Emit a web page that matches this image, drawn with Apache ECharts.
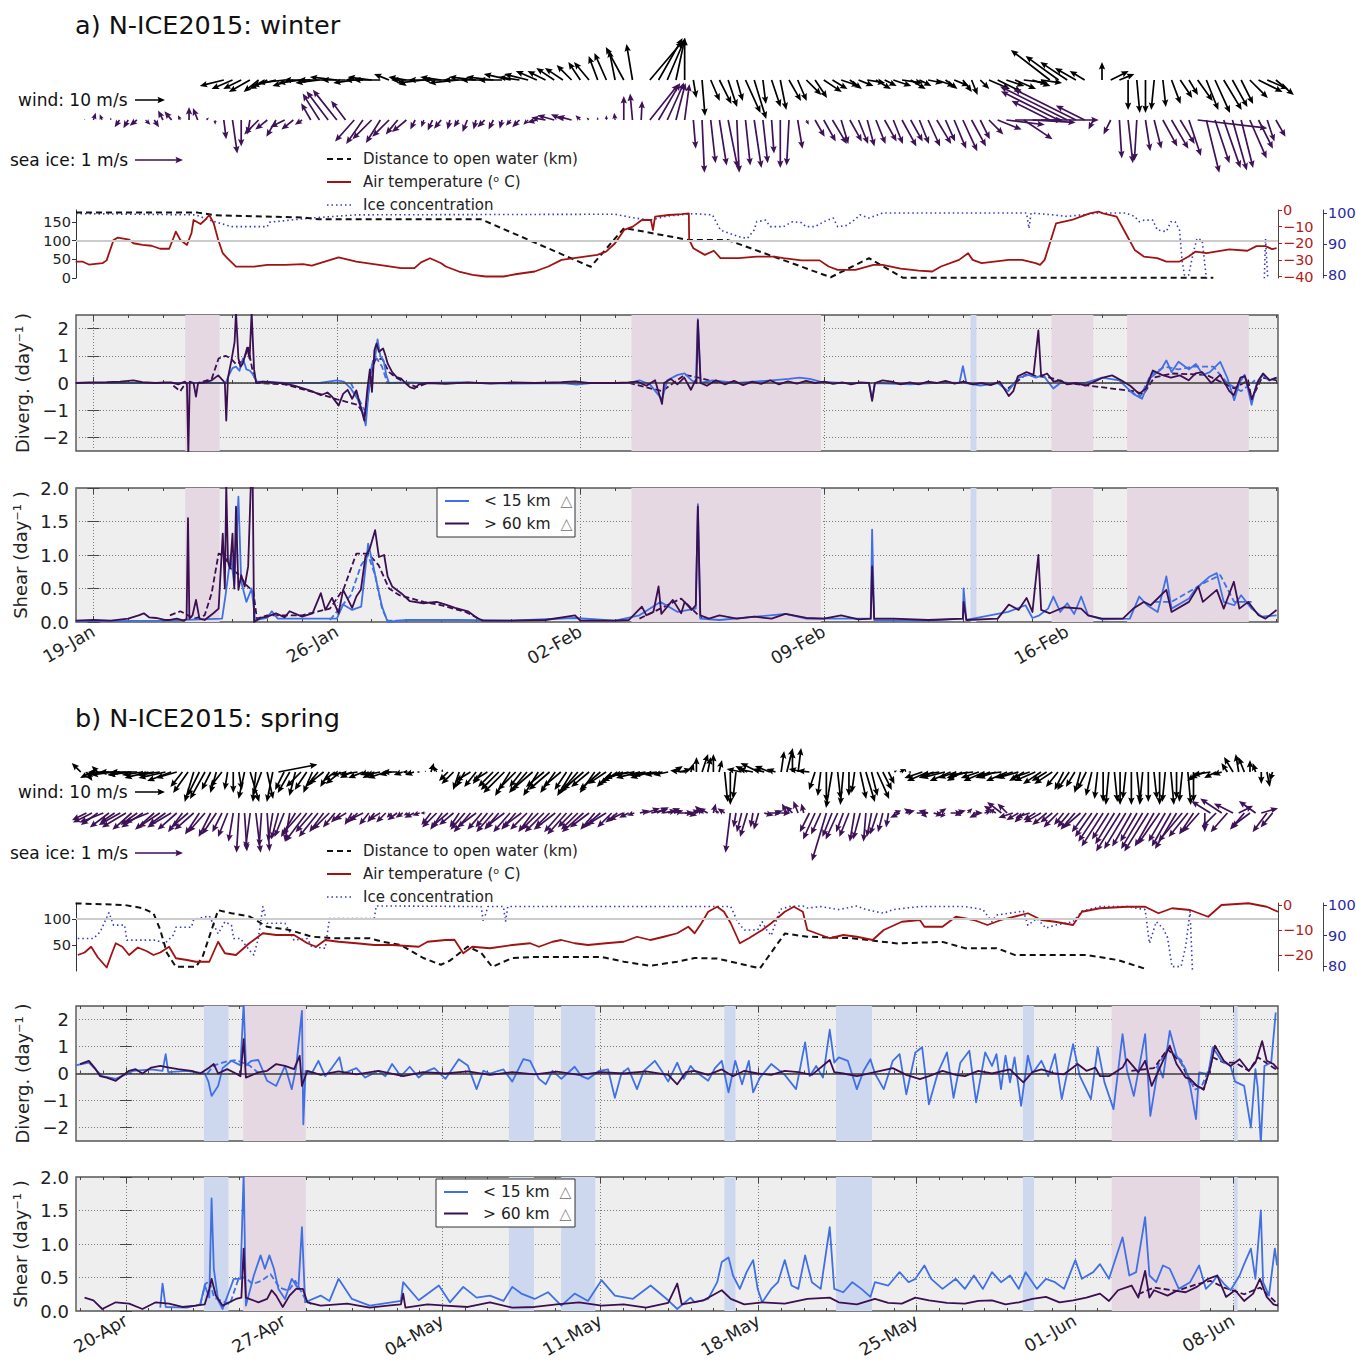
<!DOCTYPE html>
<html><head><meta charset="utf-8">
<script src="https://cdn.jsdelivr.net/npm/echarts@6/dist/echarts.min.js"></script>
<style>html,body{margin:0;padding:0;background:#fff}#c{width:1356px;height:1363px}</style>
</head><body><div id="c"></div><script>
// ================= DATA =================
// x values are days: panel a from 19-Jan-2015 00:00, panel b from 20-Apr-2015 00:00
const weekTicksA = [0,7,14,21,28];
const weekLabelsA = ['19-Jan','26-Jan','02-Feb','09-Feb','16-Feb'];
const weekTicksB = [0,7,14,21,28,35,42,49];
const weekLabelsB = ['20-Apr','27-Apr','04-May','11-May','18-May','25-May','01-Jun','08-Jun'];
const rangeA = [-0.5, 34.06];
const rangeB = [-2.21, 50.99];

// vector sampling (6-hourly) start day and step
const arrowStartA = -0.5, arrowStartB = -2.0, arrowStep = 0.25;

// ---- panel a : winter ----
const windA_u = [null,null,null,null,null,null,null,null,null,null,null,null,null,null,null,null,null,
 -8,-7,-6,-7,-5,-6,
 -8,-9,-7,-8,-9,-8,-10,-9,-8,-7,-6,-8,-9,-5,3,-6,-8,-9,-8,-7,-9,-10,-8,-9,-8,
 -9,-8,-9,-7,-8,-7,-6,-6,
 -6,-5,-4,-5,-3,-4,-2,-6,
 -2,null,
 11,8,6,3,0,
 1,
 1,3,4,3,2,5,4,1,3,2,4,3,5,4,6,
 5,6,4,5,6,5,4,6,7,5,4,5,6,4,5,3,2,3,
 7,8,6,7,8,6,7,
 -13,-11,-9,-7,-5,
 null,0,6,5,
 0,1,0,-1,1,3,4,3,5,4,5,6,5,4,6,8,7,6];
const windA_v = [null,null,null,null,null,null,null,null,null,null,null,null,null,null,null,null,null,
 -2,-3,-3,-4,-4,-3,
 -2,-1,-2,-1,0,-1,0,1,0,-1,0,1,0,2,-2,1,0,-1,0,1,0,-1,0,1,0,
 1,0,2,1,2,3,3,4,
 4,5,6,6,8,9,10,11,
 12,null,
 13,14,14,14,14,
 -6,
 -12,-7,-8,-9,-7,-11,-13,-8,-9,-10,-7,-7,-5,-6,-4,
 -3,-2,-3,-2,-1,-3,-2,-2,-1,-3,-2,-1,-2,-3,-2,-4,-5,-3,
 -3,-4,-2,-3,-1,-2,-1,
 10,8,6,4,3,
 null,6,3,2,
 -10,-11,-11,-10,-9,-8,-6,-5,-7,-10,-11,-10,-9,-8,-6,-4,-3,-5];
const iceA_u = [null,
 0,0.05,-0.05,0,-0.1,-0.1,-0.15,0.1,0.1,-0.1,-0.15,-0.05,0,-0.1,0.05,0,
 0.05,0.1,0,-0.05,
 -0.3,-0.25,-0.2,-0.3,-0.25,-0.15,
 -0.2,-0.35,-0.45,-0.5,-0.3,
 -0.4,-0.35,-0.4,-0.3,-0.35,-0.25,-0.3,
 -0.1,-0.05,-0.1,-0.15,-0.05,-0.1,-0.1,-0.05,-0.15,-0.1,-0.05,-0.1,-0.15,-0.1,-0.2,
 -0.3,-0.35,-0.25,-0.3,-0.1,-0.05,
 0,0,-0.02,
 0,-0.05,0.02,
 0.6,0.45,0.35,0.2,0.1,
 0.05,0.05,0.1,0.15,0.2,0.05,0.1,0.15,0.1,0.05,0,-0.05,0.1,
 0.05,
 0.2,0.25,0.3,0.15,0.25,0.2,0.15,0.2,0.25,0.2,0.3,0.25,0.2,0.25,0.3,0.2,0.25,0.3,0.3,0.2,
 0.3,0.5,0.8,1.0,0.6,0.9,1.2,
 -0.8,-1.2,-1.4,-1.3,-0.6,
 -0.1,0,-0.15,
 0.05,0.1,-0.05,0.1,0.15,0.3,0.35,0.3,0.25,1.45,0.27,0.3,0.35,0.3,0.25,0.35,0.3,0.15,0.2];
const iceA_v = [null,
 0.02,0.15,0.12,0.05,-0.15,-0.17,-0.12,-0.1,-0.15,0.2,0.18,0.1,0.27,0.25,0.05,-0.1,
 -0.4,-0.7,-0.55,-0.3,
 -0.3,-0.2,-0.35,-0.15,-0.2,-0.1,
 0.35,0.55,0.6,0.63,0.4,
 -0.45,-0.5,-0.4,-0.48,-0.35,-0.3,-0.25,
 -0.2,-0.15,-0.22,-0.18,-0.2,-0.15,-0.25,-0.2,-0.15,-0.2,-0.18,-0.12,-0.15,-0.1,-0.05,
 0.05,0.1,0.12,0.08,0.1,0.05,
 0.06,0.1,0.15,
 0.5,0.55,0.4,
 0.75,0.77,0.78,0.77,0.75,
 -0.6,-1.1,-0.9,-0.95,-1.0,-1.1,-0.95,-1.0,-0.9,-0.7,-1.0,-0.95,-0.6,
 -0.1,
 -0.35,-0.45,-0.5,-0.5,-0.45,-0.5,-0.55,-0.5,-0.45,-0.5,-0.55,-0.45,-0.5,-0.55,-0.5,-0.45,-0.6,-0.65,-0.55,-0.4,
 -0.3,-0.2,-0.1,0,-0.4,-0.05,0,
 0.4,0.6,0.7,0.65,0.3,
 -0.2,0,-0.3,
 -0.8,-0.9,-0.85,-0.65,-0.6,-0.55,-0.6,-0.5,-0.75,-0.17,-1.1,-0.9,-1.0,-1.05,-1.0,-0.8,-0.6,-0.45,-0.35];

const distA = [[-0.5,175],[3.0,175],[3.5,168],[6.0,162],[6.5,157],[11.15,157],[14.3,30],[15.26,134],[17.1,102],[18.23,102],[21.2,2],[22.3,53],[23.27,1],[32.2,1]];
const tempA = [[-0.51,-31.1],[-0.32,-31],[-0.13,-32.8],[0.26,-32],[0.38,-30.3],[0.58,-18],[0.7,-16.6],[1.03,-17.8],[1.15,-20],[1.41,-21],[1.67,-21.5],[1.92,-23.3],[2.18,-23.3],[2.31,-16.4],[2.37,-13],[2.5,-18],[2.69,-21],[2.82,-14],[2.88,-6],[3.08,-8.4],[3.21,-6],[3.33,-3],[3.46,-8],[3.59,-18],[3.72,-26],[3.85,-29],[4.1,-34],[4.62,-34],[5.0,-33],[5.51,-33],[6.03,-32.5],[6.28,-33.5],[7.05,-28.5],[7.56,-31],[8.21,-33],[8.85,-35],[9.23,-35],[9.42,-31.5],[9.68,-29],[10.0,-32],[10.13,-34],[10.51,-37],[10.9,-39],[11.28,-40],[11.79,-40],[12.18,-38.5],[12.69,-37],[13.08,-34],[13.46,-30],[13.97,-28.5],[14.49,-27],[14.74,-25],[15.0,-20],[15.26,-12],[15.51,-10],[15.77,-6],[16.03,-6],[16.09,-12],[16.15,-4],[16.54,-3],[16.92,-2.5],[17.12,-2],[17.13,-18],[17.25,-23],[17.58,-27],[17.84,-24.5],[18.03,-29],[18.55,-29],[19.07,-28],[19.58,-28],[19.84,-29],[20.36,-30.3],[20.88,-30.3],[21.14,-34],[21.4,-36],[21.91,-36],[22.43,-33],[22.69,-33],[23.21,-35.3],[23.73,-36.5],[24.12,-37],[24.37,-34],[24.89,-30],[25.15,-26],[25.28,-30],[25.54,-32],[26.32,-30],[26.7,-30],[27.09,-32],[27.22,-33],[27.35,-30],[27.68,-8],[28.13,-6],[28.39,-4],[28.65,-2],[28.9,-1],[29.03,-2],[29.42,-4],[29.68,-14],[29.94,-24],[30.2,-28],[30.59,-29],[30.85,-31],[31.23,-31],[31.49,-28],[31.69,-25],[32.01,-26],[32.66,-23.7],[33.18,-24.5],[33.44,-21.7],[33.7,-21.7],[33.89,-23.5],[34.02,-23]];
const iceConcA = [[-0.5,99.8],[2.95,99.4],[3.33,97.7],[3.97,95.6],[5.0,95.6],[5.06,97],[5.64,97.7],[6.28,98.4],[7.56,99.4],[15.0,99.6],[15.5,98.5],[16.0,97.7],[16.5,99],[17.25,99.8],[17.8,99.4],[17.9,97.2],[18.03,94.5],[18.3,93.4],[18.55,92.4],[18.8,91.8],[19.0,94.5],[19.07,97.2],[19.33,97.7],[19.46,95.6],[19.84,95.6],[20.1,97.2],[20.36,96.9],[20.49,95.6],[20.75,95.6],[21.0,97.2],[21.27,98.4],[21.4,95.6],[21.66,96],[21.91,98],[22.04,99.4],[22.3,98.4],[22.56,99.4],[22.69,100],[26.83,100],[26.9,95],[26.96,100],[27.6,99.4],[28.0,98.9],[28.9,100],[29.68,100],[29.94,98.9],[30.07,97.2],[30.2,97.7],[30.46,97.7],[30.59,94.5],[30.85,94],[30.98,97.2],[31.1,97.2],[31.23,94.5],[31.3,84.8],[31.37,80],[31.49,80],[31.62,87],[31.73,91.8],[31.88,91.2],[31.99,80],[32.05,76],[32.1,null],[33.66,76],[33.7,91.8],[33.78,76]];

const divA_far = [[-0.51,0],[-0.13,0.02],[0.38,0.03],[0.77,0.05],[1.15,0.1],[1.41,0.03],[1.79,0],[2.05,0.02],[2.24,0.02],[2.44,-0.05],[2.63,0.05],[2.69,-0.05],[2.73,-2.6],[2.77,0.05],[2.88,0],[2.95,-0.5],[3.01,0],[3.21,0.02],[3.4,0.1],[3.59,0.28],[3.72,0.1],[3.78,0],[3.82,-1.38],[3.87,0.2],[3.97,0.84],[4.06,1.5],[4.1,2.6],[4.17,0.9],[4.23,0.6],[4.29,0.7],[4.36,1.0],[4.42,1.3],[4.49,0.9],[4.55,2.6],[4.62,0.5],[4.68,0],[4.87,0.05],[5.13,0.02],[5.51,-0.02],[5.77,-0.1],[6.03,-0.2],[6.28,-0.3],[6.54,-0.45],[6.73,-0.35],[6.86,-0.5],[7.05,-0.83],[7.18,-0.4],[7.31,-0.25],[7.44,-0.58],[7.56,-0.27],[7.69,-0.9],[7.79,-1.38],[7.88,-0.2],[7.95,0.5],[8.01,-0.33],[8.08,1.2],[8.14,1.45],[8.21,1.15],[8.33,1.27],[8.4,1.0],[8.46,0.72],[8.59,0.4],[8.72,0.22],[8.85,0.16],[8.97,0],[9.1,-0.15],[9.23,-0.21],[9.36,-0.05],[9.62,0],[10.13,-0.03],[10.77,0.02],[11.41,-0.02],[12.05,0.02],[12.69,0],[13.46,0.03],[13.85,0.06],[14.23,0],[15.0,0],[15.38,0.02],[15.64,0.05],[15.9,-0.1],[16.15,0.1],[16.35,-0.77],[16.41,0],[16.6,0.15],[16.79,-0.05],[16.99,0.2],[17.18,-0.25],[17.31,0.1],[17.34,0],[17.38,2.3],[17.46,0],[17.64,-0.1],[17.9,0.1],[18.16,-0.05],[18.42,0.08],[18.68,-0.08],[18.94,0.05],[19.2,-0.03],[19.46,0.1],[19.71,-0.05],[19.97,0.06],[20.23,-0.02],[20.49,0.08],[20.75,0],[21.01,0.05],[21.27,-0.03],[21.53,0.02],[21.79,-0.05],[22.04,0.02],[22.3,0],[22.39,-0.66],[22.47,0],[22.69,0.1],[22.95,0.05],[23.21,-0.05],[23.47,0.02],[23.73,-0.05],[23.99,0.05],[24.25,0],[24.5,0.08],[24.76,-0.02],[25.02,0.05],[25.28,-0.05],[25.54,0],[25.8,-0.08],[26.06,0.05],[26.32,-0.48],[26.45,-0.3],[26.58,0.25],[26.83,0.4],[27.03,0.3],[27.17,1.93],[27.25,0.25],[27.42,0.35],[27.61,0.05],[27.8,0.1],[28.0,-0.05],[28.26,0],[28.52,-0.1],[28.78,0.05],[29.03,0.2],[29.29,0.28],[29.55,0.1],[29.81,-0.1],[30.07,-0.4],[30.26,-0.2],[30.46,0.46],[30.72,0.3],[30.98,0.2],[31.24,0.28],[31.49,0.1],[31.69,0.35],[31.88,0.4],[32.14,0],[32.4,0.3],[32.66,-0.3],[32.79,-0.45],[32.98,0.2],[33.11,0.25],[33.31,-0.6],[33.5,0.1],[33.63,0.35],[33.82,0.1],[34.02,0.2]];
const divA_near = [[-0.5,0],[2.0,0],[2.7,0],[3.8,0],[3.9,0.3],[4.0,0.55],[4.1,0.6],[4.2,0.45],[4.3,0.9],[4.4,0.5],[4.5,0.45],[4.6,0.3],[4.7,0.05],[5.0,0.05],[5.5,0],[6.0,0],[6.5,0],[7.0,0.1],[7.2,0.05],[7.4,-0.2],[7.6,-0.6],[7.75,-1.1],[7.83,-1.56],[7.9,-0.5],[8.0,0.6],[8.1,0.95],[8.17,1.6],[8.25,1.0],[8.35,0.8],[8.42,0.3],[8.5,0],[9.0,0.02],[9.5,0],[10.5,0.02],[12,-0.02],[13.5,0],[13.9,-0.06],[14.3,0],[15.4,0],[15.7,0.1],[16.0,-0.05],[16.35,-0.6],[16.5,0.1],[16.8,0.3],[17.0,0.35],[17.2,0.1],[17.32,0],[17.38,2.35],[17.46,0],[17.8,0.1],[18.5,0],[19.5,0.1],[20.0,0.15],[20.3,0.2],[20.6,0.15],[20.9,0.05],[21.5,0],[22.3,0],[22.39,-0.6],[22.47,0],[23.5,-0.05],[24.5,0.02],[24.9,0],[25.0,0.62],[25.1,0],[25.5,-0.1],[26.0,0],[26.3,-0.3],[26.6,0.2],[26.9,0.3],[27.1,0.2],[27.3,0.3],[27.6,-0.2],[27.8,0],[28.5,0],[29.0,0.2],[29.5,0.1],[29.9,-0.4],[30.15,-0.58],[30.4,0.2],[30.7,0.5],[30.85,0.83],[31.0,0.4],[31.2,0.78],[31.5,0.5],[31.7,0.7],[31.9,0.3],[32.1,0.4],[32.4,0.78],[32.6,0.2],[32.8,-0.63],[32.95,0],[33.1,0.3],[33.3,-0.8],[33.45,0],[33.63,0.3],[33.8,0.1],[34.02,0.2]];
const divA_farDash = [[2.3,-0.1],[2.5,-0.3],[2.65,0],[3.0,0],[3.4,0.15],[3.6,0.9],[3.8,1.0],[3.95,0.9],[4.1,0.7],[4.3,0.8],[4.45,1.3],[4.6,0.3],[4.7,0],[5.5,-0.05],[6.5,-0.4],[7.0,-0.6],[7.3,-0.7],[7.6,-0.8],[7.8,-1.2],[7.9,-0.4],[8.0,0.4],[8.1,0.85],[8.3,0.9],[8.5,0.4],[8.7,0.2],[9.0,0],[9.3,-0.15],[9.6,0],[9.7,null],[15.4,0],[16.35,-0.3],[17.0,0.3],[17.4,0.2],[18,0],[18.1,null],[26.3,-0.2],[26.8,0.3],[27.5,0.2],[28,0],[29.9,-0.3],[30.2,-0.4],[30.5,0.2],[31.0,0.35],[32,0.3],[32.8,-0.2],[33.2,0.1],[33.3,-0.6],[33.6,0.2],[34.02,0.1]];
const divA_nearDash = [[7.4,0],[7.6,-0.5],[7.75,-0.9],[7.85,-1.1],[7.95,0.2],[8.05,0.9],[8.15,0.9],[8.3,0.6],[8.45,0],[8.7,0],[8.8,null],[29.8,-0.3],[30.1,-0.5],[30.4,0.3],[30.8,0.6],[31.2,0.5],[31.6,0.6],[32.2,0.6],[32.6,0],[33.0,-0.3],[33.4,0.1]];

const shearA_far = [[-0.51,0.02],[0,0.03],[0.5,0.02],[1.0,0.05],[1.3,0.1],[1.45,0.13],[1.6,0.07],[1.8,0.06],[2.05,0.03],[2.2,0.03],[2.4,0.05],[2.6,0.02],[2.68,0.05],[2.72,1.55],[2.76,0.05],[2.85,0.1],[2.95,0.33],[3.05,0.05],[3.2,0.03],[3.45,0.13],[3.6,0.2],[3.72,1.32],[3.78,0.5],[3.82,2.05],[3.87,0.9],[3.93,0.8],[4.0,1.32],[4.05,0.5],[4.1,1.72],[4.17,0.48],[4.25,0.7],[4.35,0.53],[4.45,0.83],[4.53,2.1],[4.58,2.1],[4.62,0],[4.8,0.06],[5.0,0.08],[5.25,0.13],[5.5,0.07],[5.64,0.16],[6.0,0.08],[6.3,0.13],[6.54,0.43],[6.67,0.18],[6.86,0.36],[7.05,0.13],[7.18,0.48],[7.44,0.21],[7.56,0.38],[7.69,0.48],[7.82,0.97],[7.95,1.1],[8.1,1.37],[8.21,0.97],[8.36,1.0],[8.46,0.68],[8.59,0.53],[8.85,0.43],[9.1,0.31],[9.49,0.28],[9.87,0.3],[10.13,0.26],[10.4,0.21],[10.77,0.16],[11.03,0.06],[11.2,0.02],[12.0,0.02],[13.0,0.03],[13.85,0.1],[14.0,0.02],[15.0,0.02],[15.4,0.03],[15.77,0.23],[15.9,0.1],[16.1,0.15],[16.25,0.53],[16.33,0.12],[16.66,0.33],[16.9,0.13],[17.0,0.3],[17.2,0.18],[17.32,0.25],[17.38,1.72],[17.45,0.1],[17.7,0.05],[18.0,0.1],[18.5,0.05],[19.0,0.08],[19.5,0.05],[19.9,0.12],[20.5,0.06],[21.0,0.05],[21.5,0.1],[22.0,0.04],[22.35,0.05],[22.39,0.83],[22.45,0.05],[23,0.05],[24,0.03],[25.0,0.05],[25.02,0.3],[25.1,0.03],[26.0,0.05],[26.32,0.26],[26.6,0.18],[26.83,0.36],[27.0,0.15],[27.17,1.0],[27.25,0.18],[27.5,0.13],[27.9,0.22],[28.4,0.2],[28.6,0.1],[29.0,0.05],[29.6,0.05],[29.9,0.2],[30.2,0.3],[30.4,0.25],[30.85,0.48],[31.0,0.15],[31.5,0.3],[31.77,0.53],[31.9,0.3],[32.3,0.48],[32.5,0.2],[32.79,0.6],[32.95,0.2],[33.2,0.3],[33.5,0.1],[33.7,0.05],[34.02,0.18]];
const shearA_near = [[-0.5,0.01],[2.0,0.02],[3.7,0.05],[3.8,0.4],[3.95,1.0],[4.05,0.55],[4.17,1.87],[4.25,0.6],[4.4,0.3],[4.55,0.5],[4.65,0.03],[5.0,0.06],[5.13,0.16],[5.3,0.05],[6.0,0.05],[7.0,0.05],[7.18,0.26],[7.44,0.18],[7.7,0.23],[7.9,1.17],[8.03,0.88],[8.15,0.58],[8.3,0.23],[8.46,0],[9.0,0.03],[10.5,0.03],[12,0.02],[13.85,0.06],[15.0,0.02],[15.7,0.1],[16.3,0.3],[16.8,0.15],[17.32,0.2],[17.38,1.76],[17.45,0.05],[18,0.03],[19.9,0.12],[20.5,0.05],[22.35,0.05],[22.39,1.38],[22.45,0.03],[24,0.02],[25.0,0.05],[25.02,0.5],[25.1,0.03],[26.3,0.15],[26.8,0.25],[27.0,0.06],[27.2,0.1],[27.45,0.2],[27.6,0.38],[27.8,0.15],[28.0,0.28],[28.2,0.12],[28.4,0.38],[28.6,0.1],[29.0,0.04],[29.8,0.05],[30.07,0.38],[30.3,0.25],[30.6,0.15],[30.85,0.68],[31.0,0.2],[31.5,0.35],[31.7,0.5],[32.1,0.68],[32.3,0.73],[32.5,0.3],[32.8,0.25],[33.0,0.4],[33.3,0.2],[33.6,0.08],[34.02,0.1]];
const shearA_farDash = [[2.2,0.1],[2.5,0.16],[2.9,0.05],[3.2,0.1],[3.4,0.43],[3.6,1.02],[3.75,1.0],[3.95,0.8],[4.2,0.7],[4.4,0.55],[4.6,0.45],[4.7,0.05],[5.0,0.1],[6.0,0.1],[6.8,0.2],[7.2,0.5],[7.56,1.02],[7.9,1.02],[8.2,0.85],[8.5,0.5],[8.8,0.4],[9.5,0.3],[10.0,0.25],[10.7,0.15],[11.2,0.02],[11.3,null],[15.7,0.05],[16.3,0.2],[16.9,0.35],[17.1,0.25],[17.5,0.05]];
const shearA_nearDash = [[6.8,0.03],[7.4,0.4],[7.7,0.85],[7.9,1.0],[8.1,0.7],[8.3,0.2],[8.46,0.02],[9.0,0.02],[9.1,null],[30.5,0.3],[31,0.3],[32,0.6],[32.4,0.7],[32.8,0.3],[33.3,0.3]];

const bandsA = [[2.64,3.63,'P'],[15.47,20.92,'P'],[25.22,25.39,'B'],[27.55,28.75,'P'],[29.72,33.22,'P']];

// ---- panel b : spring ----
const windB_u = [-3,2,-4,-2,
 -6,-7,-8,-7,-6,-8,-9,-7,-8,-6,-7,-9,-8,-7,
 -4,-5,-3,-4,-5,-3,-2,-4,
 -1,0,1,-2,3,-1,-3,2,-2,
 13,-3,-4,-2,-5,-4,-3,
 -4,-5,-3,-4,-5,
 -5,-4,-6,-5,-3,-4,-5,-6,-4,-5,-3,-2,-3,-1,
 0,1,-1,0,
 -3,-4,-2,-3,-5,-4,-3,-5,
 -5,-6,-7,-5,-6,-4,-6,-7,-5,-6,-7,-5,-6,-4,-5,-6,-7,-6,-5,-7,-6,-5,-6,-7,
 -8,-7,-8,-6,-7,-8,-6,-5,3,4,
 -5,
 1,0,2,1,0,1,
 1,0,-1,
 -5,-4,-5,-6,-4,-5,-3,
 1,2,0,1,
 -5,-4,
 -2,-1,0,-2,1,-1,0,-1,
 2,3,2,4,3,2,
 1,2,0,-1,0,
 -6,-7,-5,-6,-8,-7,-6,-5,-7,-8,-6,-7,-5,-6,-8,-7,-6,-7,-5,-6,-7,-6,-5,-6,
 -4,-3,-4,-3,-2,-3,-2,-1,
 0,-1,1,0,-1,0,1,-1,0,1,0,-1,1,0,-1,1,0,
 -4,-5,-6,-4,-3,
 -2,-3,-1,-2,0,-1,
 0,1,-1];
const windB_v = [3,-3,-2,2,
 -1,0,-1,0,-1,-1,0,-1,-2,-1,-1,-2,-3,-2,
 -5,-7,-10,-8,-9,-6,-7,-5,
 -6,-7,-6,-9,-10,-10,-8,-9,-10,
 2.5,-6,-7,-8,-5,-6,-7,
 -5,-4,-5,-3,-4,
 -1,-2,-1,-2,-1,-2,-1,-2,-1,0,-1,0,-1,0,
 0.5,3,2,1,
 -3,-4,-6,-5,-3,-5,-4,-3,
 -5,-6,-7,-8,-6,-5,-7,-6,-8,-5,-6,-7,-5,-6,-8,-7,-6,-5,-7,-6,-4,-5,-4,-3,
 -2,-1,-2,-1,-2,-1,-1,-1,2,1,
 0.5,
 3,5,6,5,6,4,
 -10,-11,-9,
 1,2,1,3,1,2,1,
 7,8,7,8,
 1,0.5,
 -6,-8,-10,-12,-9,-11,-8,-7,
 -9,-10,-8,-9,-6,-4,
 0.5,1,1,0,0,
 -2,-3,-2,-1,-2,-3,-2,-3,-2,-1,-2,-3,-2,-2,-1,-3,-2,-2,-3,-2,-3,-4,-3,-4,
 -5,-6,-6,-5,-7,-6,-8,-9,
 -10,-11,-10,-11,-9,-11,-10,-11,-10,-9,-11,-10,-11,-9,-10,-11,-10,
 -3,-2,-1,-2,-1,
 3,5,6,5,4,3,
 -4,-5,-3];
const iceB_u = [null,
 -0.3,-0.4,-0.35,-0.5,-0.4,-0.3,-0.45,-0.5,-0.4,-0.35,-0.45,-0.5,-0.4,-0.45,-0.35,-0.5,-0.4,-0.3,-0.35,-0.4,-0.3,-0.35,-0.25,-0.3,-0.2,
 -0.2,-0.1,-0.05,0.05,-0.1,0.1,-0.05,0.05,-0.1,-0.15,-0.2,-0.1,
 -0.3,-0.4,-0.45,-0.35,-0.4,-0.3,-0.35,-0.25,
 -0.2,-0.25,-0.15,-0.2,-0.3,-0.2,-0.15,-0.25,-0.2,-0.1,-0.2,-0.15,-0.1,-0.2,-0.15,-0.1,
 -0.2,-0.3,-0.25,-0.35,-0.3,-0.2,-0.3,-0.35,-0.4,-0.3,-0.25,-0.35,-0.3,-0.4,-0.35,-0.3,-0.4,-0.35,-0.3,
 -0.35,-0.4,-0.3,-0.45,-0.35,-0.4,-0.3,-0.35,-0.45,-0.4,-0.3,-0.35,-0.4,-0.3,-0.25,-0.3,-0.2,-0.15,
 0.2,0.3,0.35,0.25,0.3,0.25,0.2,0.3,0.25,0.2,0.15,
 -0.15,-0.2,0.05,-0.1,-0.15,-0.1,-0.05,
 -0.1,-0.15,-0.05,-0.1,
 0.2,0.25,0.15,0.2,
 -0.1,-0.15,-0.1,-0.05,
 -0.2,-0.25,-0.2,-0.3,-0.2,-0.25,-0.15,-0.2,
 -0.1,-0.15,-0.05,-0.1,-0.15,-0.1,-0.05,
 0.15,-0.2,0.2,-0.15,0.25,0.1,-0.2,0.2,0.15,-0.1,0.25,0.2,-0.15,0.1,0.2,-0.2,0.15,0.1,-0.25,-0.3,-0.2,
 -0.3,-0.25,-0.2,-0.3,-0.25,-0.35,-0.3,-0.25,-0.3,-0.2,-0.25,-0.3,-0.35,
 -0.3,-0.35,-0.4,-0.45,-0.35,-0.4,-0.5,-0.45,-0.4,-0.35,-0.45,-0.5,-0.4,-0.45,-0.35,-0.4,-0.45,-0.5,-0.4,-0.3,-0.35,
 0,
 -0.4,-0.3,-0.45,-0.35,-0.4,0.3,-0.3,-0.4,-0.35,0.35,-0.3,-0.25];
const iceB_v = [null,
 -0.15,-0.2,-0.25,-0.2,-0.3,-0.2,-0.25,-0.3,-0.35,-0.25,-0.3,-0.2,-0.35,-0.3,-0.25,-0.3,-0.35,-0.4,-0.3,-0.35,-0.45,-0.4,-0.5,-0.45,-0.4,
 -0.5,-0.6,-0.83,-0.8,-0.75,-0.83,-0.7,-0.8,-0.6,-0.55,-0.5,-0.6,
 -0.5,-0.45,-0.6,-0.4,-0.5,-0.4,-0.35,-0.3,
 -0.2,-0.15,-0.25,-0.2,-0.15,-0.25,-0.2,-0.15,-0.2,-0.1,-0.15,-0.1,-0.05,-0.1,-0.05,0,
 -0.25,-0.3,-0.35,-0.3,-0.25,-0.3,-0.35,-0.4,-0.3,-0.35,-0.3,-0.4,-0.35,-0.3,-0.4,-0.35,-0.3,-0.35,-0.4,
 -0.35,-0.4,-0.3,-0.35,-0.4,-0.45,-0.3,-0.35,-0.4,-0.3,-0.35,-0.3,-0.25,-0.3,-0.2,-0.15,-0.1,-0.05,
 0.05,0.1,0.08,0.12,0.05,0.1,0.05,0,-0.05,0.05,0.1,
 0.15,0.1,0.2,0.05,0.1,-0.83,-0.3,
 -0.4,-0.5,-0.3,-0.35,
 -0.05,0,0.05,0,
 0.2,0.15,0.25,0.2,
 -0.4,-0.55,-0.45,-1.0,-0.5,-0.55,-0.4,-0.5,
 -0.6,-0.55,-0.6,-0.5,-0.45,-0.4,-0.3,
 0.05,-0.1,0.05,0.1,0,-0.1,0.05,-0.05,0.1,-0.1,0,0.05,-0.05,0.1,0,-0.1,0.05,0.1,0.15,0.23,0.2,
 -0.1,-0.15,-0.2,-0.1,-0.15,-0.2,-0.25,-0.2,-0.3,-0.25,-0.3,-0.35,-0.3,
 -0.4,-0.5,-0.6,-0.7,-0.55,-0.65,-0.8,-0.75,-0.7,-0.6,-0.75,-0.8,-0.7,-0.65,-0.6,-0.7,-0.75,-0.6,-0.5,-0.45,-0.4,
 -0.4,
 0.25,-0.3,0.3,-0.4,0.2,0.15,-0.35,-0.3,0.25,0.1,-0.4,-0.3];

const distB = [[-2.23,130],[-0.06,127],[0.73,121],[1.22,111],[1.52,79],[1.81,35],[2.21,8],[3.1,8],[3.39,27],[3.79,79],[4.08,117],[4.67,111],[5.46,105],[6.25,85],[7.24,79],[8.22,66],[9.21,63],[10.79,63],[11.38,56],[12.17,50],[13.16,25],[13.94,12],[14.34,20],[15.13,47],[15.72,35],[16.21,8],[17.1,25],[18.09,27],[21.05,27],[22.03,18],[23.21,10],[24.4,18],[25.17,25],[26.17,24],[28.06,5],[29.16,72],[30.16,66],[32.15,63],[34.14,53],[36.14,56],[37.13,44],[38.53,44],[39.33,31],[42.51,31],[43.91,21],[45.2,3]];
const tempB = [[-2.13,-20],[-1.83,-19],[-1.54,-16.7],[-1.24,-21],[-0.85,-25],[-0.65,-20],[-0.45,-15.3],[-0.16,-16.7],[0.14,-20],[0.53,-17],[0.93,-18.5],[1.22,-20],[1.52,-19],[1.91,-16.7],[2.21,-21.3],[2.7,-22],[3.1,-22.7],[3.69,-22.7],[4.08,-14.7],[4.38,-19.3],[4.87,-20],[5.46,-15.3],[6.06,-11.3],[6.65,-12],[7.44,-12],[8.03,-15.3],[8.42,-16.7],[8.82,-14],[9.41,-14.7],[10.2,-15.3],[10.99,-16],[11.78,-16],[12.96,-16.7],[13.35,-14.7],[14.14,-14],[14.54,-13.9],[14.93,-19.3],[15.33,-16.7],[16.11,-17.3],[17.1,-16],[17.89,-15.3],[18.28,-16.7],[18.88,-14.7],[19.27,-14],[19.86,-15.3],[20.45,-16],[21.24,-15.3],[22.03,-14.7],[22.62,-12.7],[23.21,-14],[23.81,-12.7],[24.4,-11.3],[24.89,-8.7],[25.17,-11.3],[25.47,-7.3],[25.77,-2.7],[26.17,-0.7],[26.47,-2.7],[26.77,-7.3],[27.17,-15.3],[27.57,-13.3],[28.16,-10],[28.56,-7.3],[29.16,-2.7],[29.56,-0.7],[29.96,-2.7],[30.16,-10],[30.55,-11.3],[31.15,-13.3],[31.75,-12],[32.35,-12.7],[33.05,-14],[33.54,-10],[34.34,-6.7],[35.14,-6],[35.34,-8.7],[36.14,-8.7],[36.73,-4.7],[37.53,-6],[38.13,-8],[38.73,-6],[39.92,-3.3],[40.52,-6],[41.12,-6.7],[41.92,-8],[42.31,-2.7],[43.11,-1.3],[44.31,-0.7],[45.11,-0.7],[45.7,-3.3],[46.3,-1.3],[47.1,-2],[47.9,-4.7],[48.49,0],[49.69,0.7],[50.49,-0.7],[50.99,-2.7]];
const iceConcB = [[-2.13,89],[-1.44,89],[-1.14,91.2],[-0.75,97.5],[-0.55,93.4],[-0.06,93.4],[0.04,88.5],[1.32,88.5],[1.72,87.4],[2.11,90.2],[2.21,92.7],[2.9,92.7],[3.0,95.3],[3.69,96.4],[4.08,90.6],[4.38,94.5],[4.67,93.4],[4.77,89],[5.07,89],[5.46,85.2],[5.66,83.6],[5.86,89],[6.06,99.5],[6.25,94],[7.04,94],[7.44,88.5],[8.03,89],[8.22,86.3],[8.82,85.8],[9.01,95.6],[10.99,95.6],[11.08,99.7],[15.72,99.5],[15.82,94.5],[16.02,99.5],[16.71,99.5],[16.8,94.5],[16.9,99.5],[26.77,99.5],[27.07,94.5],[27.37,91.8],[27.96,91.8],[28.16,94.5],[28.36,91.8],[28.56,90],[28.96,98.6],[29.36,99.5],[29.96,99.7],[30.16,99],[30.75,99.5],[31.55,98.5],[32.35,99.7],[32.75,98.5],[33.54,97.3],[33.94,98.5],[35.14,99.5],[37.13,99.5],[37.93,98.5],[38.33,94.5],[38.53,96.7],[39.72,98],[39.92,93.4],[40.32,95.6],[40.72,92.4],[41.12,93.4],[41.92,94.5],[42.31,98],[43.11,99.5],[44.31,99.5],[45.11,98.5],[45.3,87.4],[45.6,94.5],[45.9,92.4],[46.1,89.3],[46.3,79.8],[46.7,79.8],[46.9,86.3],[47.1,98],[47.2,79],[47.25,75]];

const divB_far = [[-2.03,0.35],[-1.64,0.47],[-1.34,0.16],[-1.14,-0.1],[-0.85,-0.15],[-0.45,-0.27],[-0.26,-0.15],[0.14,0.1],[0.43,0.16],[0.73,0],[1.12,0.22],[1.52,0.28],[1.91,0.22],[2.31,0.16],[2.9,0.1],[3.29,0],[3.69,0.22],[3.89,0.35],[4.08,0],[4.48,0.16],[4.87,0],[5.07,-0.1],[5.21,1.27],[5.31,-0.15],[5.86,0.04],[6.25,0.1],[6.65,0.35],[7.04,0.28],[7.44,0.16],[7.69,0.65],[7.79,-0.46],[8.03,0.1],[8.62,-0.05],[9.41,0.08],[10.2,-0.03],[11.18,0.1],[12.27,-0.1],[13.16,0.05],[14.14,0],[15.13,0.08],[16.11,-0.05],[17.1,0.05],[18.09,-0.03],[19.07,0.07],[20.06,-0.05],[21.05,0.05],[22.03,0],[23.02,0.08],[24.0,-0.05],[24.4,-0.4],[24.79,0.05],[25.17,0.1],[25.77,-0.05],[26.37,0.15],[26.87,-0.1],[27.37,0.1],[27.96,0],[28.56,-0.05],[29.16,0.1],[29.76,0.05],[30.36,-0.05],[31.15,0.5],[31.35,0.05],[31.75,0],[32.35,-0.1],[33.15,0.05],[33.94,0.2],[34.54,-0.05],[35.14,-0.21],[35.54,-0.1],[36.14,0.1],[36.73,-0.05],[37.13,-0.1],[37.73,0.1],[38.33,0],[39.13,0.15],[39.72,-0.33],[40.12,0.05],[40.52,0.15],[41.12,0],[41.52,-0.03],[42.12,0.35],[42.51,0.1],[42.91,0.22],[43.11,-0.1],[43.51,-0.1],[44.11,0.22],[44.31,0.53],[44.81,0.04],[45.11,0.47],[45.4,-0.46],[45.8,0.28],[46.2,1.03],[46.5,0.35],[46.9,-0.15],[47.1,-0.2],[47.4,-0.46],[47.7,-0.58],[48.0,0.22],[48.2,1.03],[48.59,0.47],[48.89,0.28],[49.29,0.53],[49.69,0.1],[49.99,0.4],[50.29,1.2],[50.49,0.47],[50.79,0.35],[50.99,0.16]];
const divB_near = [[-2.23,0.3],[-1.64,0.4],[-1.05,-0.1],[-0.45,-0.2],[0.34,0.1],[1.12,0.15],[1.62,0.1],[1.76,0.72],[1.87,0.05],[2.7,0.1],[3.49,0],[3.65,-0.3],[3.79,-0.83],[4.08,-0.46],[4.28,0.2],[4.67,0.47],[5.07,0.3],[5.21,2.6],[5.31,0.3],[5.56,0.47],[5.86,0.5],[6.25,-0.27],[6.65,-0.46],[7.04,0.28],[7.34,-0.58],[7.53,0.2],[7.79,2.32],[7.85,-1.88],[7.95,0.1],[8.22,0],[8.52,0.47],[8.82,-0.1],[9.11,0.2],[9.45,0.6],[9.61,0],[10.2,0.2],[10.59,-0.15],[11.18,0.1],[11.48,-0.1],[11.78,0.35],[12.17,-0.1],[12.56,0.25],[12.96,-0.15],[13.35,0.1],[13.65,0.2],[14.14,-0.2],[14.73,0.53],[15.13,0.3],[15.52,-0.58],[15.82,0.1],[16.11,0],[16.71,0.15],[17.1,-0.3],[17.59,0.53],[17.89,0.47],[18.28,-0.2],[18.58,-0.4],[18.88,0.1],[19.27,-0.2],[19.86,0.25],[20.16,-0.1],[20.45,-0.2],[20.95,0.1],[21.34,0.15],[21.64,-0.9],[21.93,0],[22.23,0.2],[22.62,-0.58],[22.92,0.1],[23.41,0.47],[23.71,0.1],[24.0,-0.3],[24.4,0.4],[24.69,-0.2],[24.99,0.28],[25.17,0.1],[25.77,-0.27],[26.07,0.2],[26.37,0.47],[26.67,-0.7],[26.97,0.47],[27.27,-0.4],[27.57,0.47],[27.76,-0.7],[28.06,-0.15],[28.56,0.35],[29.16,-0.05],[29.66,-0.58],[30.06,1.15],[30.26,-0.1],[30.55,0.28],[30.85,-0.15],[31.15,1.62],[31.35,0.4],[31.55,0.6],[31.95,0.47],[32.35,-0.58],[32.65,0.1],[32.95,0.53],[33.15,0],[33.54,-0.58],[33.94,0.47],[34.24,0.72],[34.54,-0.77],[34.94,0.78],[35.24,0.97],[35.54,-1.14],[35.94,0.04],[36.34,0.78],[36.63,-0.9],[36.93,0.4],[37.33,0.84],[37.63,-1.07],[38.03,0.78],[38.33,0.28],[38.53,0.72],[38.73,-0.58],[38.93,0.66],[39.13,-0.33],[39.33,0.6],[39.62,-1.2],[39.92,0.66],[40.12,0],[40.52,0.47],[40.82,-0.1],[41.12,0.72],[41.42,-0.95],[41.92,1.09],[42.22,-0.1],[42.71,-0.95],[43.01,0.97],[43.31,-0.33],[43.71,-1.32],[44.11,1.46],[44.31,0.1],[44.61,-0.83],[44.91,0.53],[45.11,1.46],[45.34,-1.57],[45.7,0.28],[45.9,-0.15],[46.2,1.58],[46.5,0.66],[46.9,0.16],[47.1,-0.46],[47.36,-1.69],[47.5,0.04],[47.9,-0.02],[48.1,0.97],[48.49,0.47],[48.89,0.28],[49.09,-0.3],[49.49,-0.46],[49.79,-2.0],[49.99,0.16],[50.09,-0.5],[50.23,-2.6],[50.39,0.28],[50.69,0.41],[50.89,2.26]];
const divB_farDash = [[44.5,0.1],[45.5,0.2],[46.1,0.9],[46.7,0.4],[47.1,-0.3],[47.7,-0.6],[48.1,0.6],[48.6,0.4],[49.1,0.4],[49.7,0.1],[50.1,0.6],[50.99,0.1]];
const divB_nearDash = [[3.6,0],[3.89,0.3],[4.48,0.45],[4.87,0.5],[5.46,0.3],[5.9,0],[6.0,null],[45.6,0.2],[46.1,0.9],[46.7,0.5],[47.3,-0.6],[47.6,-0.5],[48.0,0.3]];

const shearB_far = [[-1.83,0.2],[-1.44,0.16],[-1.05,0.03],[-0.45,0.13],[0.14,0.11],[0.73,0.03],[1.32,0.13],[1.91,0.11],[2.5,0.06],[3.1,0.08],[3.49,0.1],[3.69,0.33],[3.79,0.48],[3.98,0.23],[4.28,0.08],[4.87,0.18],[5.11,0.2],[5.21,0.93],[5.31,0.2],[5.86,0.13],[6.25,0.18],[6.45,0.31],[6.65,0.23],[6.94,0.06],[7.24,0.23],[7.53,0.33],[7.83,0.33],[8.03,0.13],[8.62,0.08],[9.8,0.11],[10.79,0.05],[11.58,0.08],[12.17,0.1],[12.27,0.26],[12.37,0.05],[13.35,0.1],[14.14,0.08],[15.13,0.06],[16.11,0.13],[17.1,0.05],[18.09,0.06],[19.07,0.1],[20.06,0.13],[21.05,0.08],[22.03,0.1],[23.02,0.05],[24.0,0.12],[24.4,0.41],[24.6,0.1],[25.57,0.16],[26.37,0.31],[26.77,0.18],[27.37,0.1],[28.16,0.13],[29.16,0.11],[30.16,0.18],[31.15,0.2],[31.55,0.13],[32.35,0.1],[33.15,0.18],[33.74,0.12],[34.34,0.11],[34.94,0.2],[35.54,0.16],[36.34,0.12],[37.13,0.11],[37.73,0.15],[38.33,0.16],[38.93,0.1],[39.52,0.13],[40.12,0.18],[40.72,0.21],[41.32,0.13],[41.92,0.16],[42.51,0.2],[43.11,0.26],[43.51,0.15],[43.91,0.31],[44.51,0.38],[44.81,0.2],[45.11,0.6],[45.3,0.2],[45.5,0.31],[46.1,0.23],[46.5,0.3],[46.9,0.28],[47.4,0.36],[47.9,0.48],[48.3,0.53],[48.69,0.21],[49.09,0.31],[49.49,0.15],[49.89,0.26],[50.19,0.48],[50.49,0.21],[50.79,0.1],[50.99,0.08]];
const shearB_near = [[1.52,0.05],[1.62,0.41],[1.76,0.06],[2.7,0.05],[3.29,0.1],[3.49,0.38],[3.69,0.2],[3.79,1.68],[3.89,0.63],[4.08,0.16],[4.28,0.03],[4.77,0.48],[5.07,0.48],[5.21,2.05],[5.31,0.08],[5.66,0.53],[5.96,0.83],[6.15,0.63],[6.35,0.83],[6.55,0.63],[6.75,0.33],[7.04,0.18],[7.34,0.48],[7.63,0.33],[7.79,1.25],[7.93,0.13],[8.62,0.23],[9.01,0.15],[9.41,0.48],[10.0,0.18],[10.79,0.08],[11.38,0.11],[12.17,0.15],[12.27,0.43],[12.96,0.16],[13.85,0.38],[14.34,0.13],[14.93,0.36],[15.52,0.2],[16.11,0.23],[16.71,0.15],[17.1,0.36],[17.5,0.26],[18.09,0.18],[18.68,0.28],[19.27,0.08],[19.86,0.26],[20.45,0.15],[21.05,0.46],[21.64,0.23],[22.43,0.18],[23.22,0.38],[24.0,0.16],[24.4,0.03],[24.99,0.2],[25.17,0.13],[25.77,0.18],[26.17,0.43],[26.37,0.73],[26.67,0.8],[26.87,0.53],[27.17,0.33],[27.47,0.58],[27.76,0.76],[27.96,0.33],[28.16,0.13],[28.56,0.33],[28.86,0.43],[29.16,0.76],[29.46,0.38],[29.76,0.33],[30.06,0.83],[30.36,0.43],[30.75,0.33],[31.15,1.25],[31.35,0.33],[31.75,0.28],[32.15,0.43],[32.55,0.33],[32.95,0.21],[33.15,0.43],[33.74,0.38],[34.24,0.58],[34.64,0.43],[34.94,0.48],[35.34,0.68],[35.64,0.48],[36.14,0.33],[36.73,0.48],[37.13,0.33],[37.53,0.53],[37.93,0.33],[38.33,0.58],[38.73,0.43],[39.13,0.53],[39.52,0.33],[39.82,0.58],[40.32,0.33],[40.72,0.48],[41.12,0.43],[41.52,0.33],[42.02,0.76],[42.31,0.48],[42.81,0.58],[43.11,0.7],[43.51,0.48],[44.11,1.1],[44.41,0.53],[44.71,0.58],[45.11,1.4],[45.3,0.53],[45.6,0.43],[45.9,0.68],[46.2,0.63],[46.6,0.33],[47.1,0.43],[47.5,0.68],[47.8,0.33],[48.1,0.43],[48.3,0.53],[48.59,0.41],[48.89,0.31],[49.29,0.53],[49.49,0.7],[49.79,0.93],[49.99,0.48],[50.23,1.5],[50.33,0.43],[50.59,0.23],[50.85,0.93],[50.95,0.68]];
const shearB_nearDash = [[3.3,0.1],[3.5,0.4],[3.7,0.45],[3.9,0.2],[4.6,0.1],[5.0,0.5],[5.3,0.5],[5.6,0.4],[6.0,0.45],[6.4,0.55],[6.8,0.35],[7.2,0.3],[7.5,0.45],[7.9,0.2],[8.2,0.1]];
const shearB_farDash = [[44.8,0.25],[45.5,0.35],[46.5,0.3],[47.4,0.4],[48.0,0.45],[48.6,0.35],[49.5,0.25],[50.2,0.35],[50.99,0.1]];

const bandsB = [[3.45,4.54,'B'],[5.19,7.96,'P'],[16.95,18.06,'B'],[19.26,20.77,'B'],[26.49,26.98,'B'],[31.43,33.02,'B'],[39.7,40.19,'B'],[43.63,47.54,'P'],[49.05,49.2,'B']];

// tick values
const distTicksA = [0,50,100,150], tempTicksA = [0,-10,-20,-30,-40], concTicks = [80,90,100];
const distTicksB = [50,100], tempTicksB = [0,-10,-20];
const divTicks = [-2,-1,0,1,2], shearTicks = [0,0.5,1,1.5,2];

// ================= STYLE / LAYOUT =================
const FONT = 'DejaVu Sans';
const COL = {blue:'#4170e4', purple:'#3b0f50', temp:'#a11212', conc:'#3838c8', dist:'#111111',
  wind:'#000000', seaice:'#3f1258', P:'#e5d8e3', B:'#cdd8ef', bg:'#eeeeee', frame:'#555555',
  tempAx:'#b01c1c', concAx:'#2a2aa8', text:'#222222'};
const GL = 76, GR = 78;
const WIND_PX = 3.0, ICE_PX = 48;   // pixels per m/s
const LAY = {
  A:{qTop:80,qH:40,mTop:210,mH:68,dTop:315,dH:136,sTop:488,sH:134,titleY:25,keyW:100,keyI:160,leg:[159,182,205],shLeg:[437,488,138,49],
     distMax:182,tempMin:-40.9,tempMax:0,concMin:79.03,concMax:100.97},
  B:{qTop:772,qH:41,mTop:903,mH:68,dTop:1006,dH:135,sTop:1177,sH:134,titleY:718,keyW:792,keyI:853,leg:[851,874,897],shLeg:[436,1179,139,48],
     distMax:130.8,tempMin:-26.4,tempMax:0.8,concMin:78.36,concMax:100.66}
};
const minusFmt = v => (v < 0 ? '\u2212' + Math.abs(v) : String(v));

const grids=[], xAxis=[], yAxis=[], series=[], graphic=[];
function addGrid(top,h,extra){ grids.push(Object.assign({left:GL,right:GR,top:top,height:h,outerBoundsMode:'none'},extra||{})); return grids.length-1; }
function hiddenX(g,rng){ return xAxis.push({gridIndex:g,type:'value',min:rng[0],max:rng[1],show:false})-1; }

function arrowPts(x0,y0,dx,dy){
  const L=Math.hypot(dx,dy); if(!(L>0.4)) return null;
  const ex=dx/L, ey=dy/L, nx=-ey, ny=ex;
  let sw=0.85, hw=3.2, hl=7.5, ha=6.5;
  if (L < hl*1.2){ const k=L/(hl*1.2); sw=Math.max(sw*k,0.45); hw*=k; hl*=k; ha*=k; }
  const P=(a,b)=>[x0+ex*a+nx*b, y0+ey*a+ny*b];
  return [P(0,sw),P(L-ha,sw),P(L-hl,hw),P(L,0),P(L-hl,-hw),P(L-ha,-sw),P(0,-sw)];
}
function quiver(U,V,t0,xi,yi,base,px,color){
  const n=Math.min(U.length,V.length), data=[];
  for(let i=0;i<n;i++){ if(U[i]==null||V[i]==null) continue; data.push([t0+i*arrowStep,U[i],V[i]]); }
  return {type:'custom',xAxisIndex:xi,yAxisIndex:yi,data:data,silent:true,animation:false,clip:false,z:5,
    dimensions:['t','u','v'],encode:{x:'t',y:'u'},
    renderItem:function(params,api){
      const t=api.value(0),u=api.value(1),v=api.value(2);
      const p=api.coord([t,base]);
      const pts=arrowPts(p[0],p[1],u*px,-v*px);
      if(!pts) return null;
      return {type:'polygon',shape:{points:pts},style:{fill:color,stroke:null}};
    }};
}
function lineS(data,xi,yi,color,width,type,z){
  return {type:'line',data:data,xAxisIndex:xi,yAxisIndex:yi,showSymbol:false,symbol:'none',silent:true,animation:false,
    z:z||3,connectNulls:false,clip:true,lineStyle:{color:color,width:width,type:type||'solid',cap:'butt',join:'round'},itemStyle:{color:color}};
}
function textG(x,y,txt,size,color,align){
  return {type:'text',x:x,y:y,z:100,silent:true,style:{text:txt,fill:color||COL.text,fontSize:size,fontFamily:FONT,align:align||'left',verticalAlign:'middle'}};
}

function buildPanel(key,title,rng,wTicks,wLabels,aStart,wU,wV,iU,iV,dist,temp,conc,dTicks,tTicks,divFar,divNear,divFarD,divNearD,shFar,shNear,shFarD,shNearD,bands){
  const G=LAY[key];
  // --- title & keys
  graphic.push(textG(75,G.titleY,title,25.5,'#111'));
  graphic.push(textG(18,G.keyW,'wind: 10 m/s',17,'#111'));
  graphic.push({type:'polygon',z:100,silent:true,shape:{points:arrowPts(135,G.keyW,10*WIND_PX,0)},style:{fill:COL.wind}});
  graphic.push(textG(10,G.keyI,'sea ice: 1 m/s',17,'#111'));
  graphic.push({type:'polygon',z:100,silent:true,shape:{points:arrowPts(135,G.keyI,1*ICE_PX,0)},style:{fill:COL.seaice}});
  // --- legend of met panel
  const legTxt=['Distance to open water (km)','Air temperature (\u1D52 C)','Ice concentration'];
  const legSty=[{stroke:COL.dist,lineWidth:2,lineDash:[6,4]},{stroke:COL.temp,lineWidth:2},{stroke:COL.conc,lineWidth:1.6,lineDash:[1.5,3]}];
  for(let k=0;k<3;k++){
    graphic.push({type:'line',z:100,silent:true,shape:{x1:327,y1:G.leg[k],x2:351,y2:G.leg[k]},style:legSty[k]});
    graphic.push(textG(363,G.leg[k],legTxt[k],15,'#222'));
  }
  // --- quiver
  let g=addGrid(G.qTop,G.qH,{show:false});
  let xi=hiddenX(g,rng);
  let yi=yAxis.push({gridIndex:g,type:'value',min:0,max:1,show:false})-1;
  series.push(quiver(wU,wV,aStart,xi,yi,1,WIND_PX,COL.wind));
  series.push(quiver(iU,iV,aStart,xi,yi,0,ICE_PX,COL.seaice));
  // --- met panel
  g=addGrid(G.mTop,G.mH,{show:false});
  xi=hiddenX(g,rng);
  const yD=yAxis.push({gridIndex:g,type:'value',position:'left',min:0,max:G.distMax,
    axisLine:{show:true,onZero:false,lineStyle:{color:'#333',width:1}},
    axisTick:{show:true,length:4,customValues:dTicks,lineStyle:{color:'#333'}},
    axisLabel:{show:true,customValues:dTicks,fontSize:14.5,color:'#222',fontFamily:FONT,margin:5},
    splitLine:{show:false}})-1;
  const yT=yAxis.push({gridIndex:g,type:'value',position:'right',offset:0,min:G.tempMin,max:G.tempMax,
    axisLine:{show:true,onZero:false,lineStyle:{color:'#444',width:1}},
    axisTick:{show:true,length:4,customValues:tTicks,lineStyle:{color:COL.tempAx}},
    axisLabel:{show:true,customValues:tTicks,formatter:minusFmt,fontSize:14.5,color:COL.tempAx,fontFamily:FONT,margin:5},
    splitLine:{show:false}})-1;
  const yC=yAxis.push({gridIndex:g,type:'value',position:'right',offset:45,min:G.concMin,max:G.concMax,
    axisLine:{show:true,onZero:false,lineStyle:{color:'#444',width:1}},
    axisTick:{show:true,length:4,customValues:concTicks,lineStyle:{color:COL.concAx}},
    axisLabel:{show:true,customValues:concTicks,fontSize:14.5,color:COL.concAx,fontFamily:FONT,margin:5},
    splitLine:{show:false}})-1;
  series.push({type:'line',xAxisIndex:xi,yAxisIndex:yD,data:[[rng[0],null]],symbol:'none',silent:true,animation:false,z:1,
    lineStyle:{opacity:0},markLine:{silent:true,symbol:'none',animation:false,label:{show:false},
      lineStyle:{color:'#cccccc',width:2,type:'solid'},data:[{yAxis:100}]}});
  series.push(lineS(conc,xi,yC,COL.conc,1.6,[1.5,3],3));
  series.push(lineS(dist,xi,yD,COL.dist,2,[6,4],3));
  series.push(lineS(temp,xi,yT,COL.temp,1.8,'solid',4));
  // --- strips
  const days=[]; for(let d=Math.ceil(rng[0]); d<=Math.floor(rng[1]); d++) days.push(d);
  function strip(top,h,yMin,yMax,yTicks,yFmt,name,withLabels,far,near,farD,nearD,zero,legBox){
    const gg=addGrid(top,h,{show:true,backgroundColor:COL.bg,borderColor:COL.frame,borderWidth:1.4});
    const lab=v=>{const k=wTicks.findIndex(w=>Math.abs(w-v)<1e-6); return k>=0?wLabels[k]:'';};
    const xm=xAxis.push({gridIndex:gg,type:'value',position:'bottom',min:rng[0],max:rng[1],
      axisLine:{show:false},
      axisTick:{show:true,inside:true,length:6,customValues:wTicks,lineStyle:{color:'#444'}},
      axisLabel:withLabels?{show:true,customValues:wTicks,formatter:lab,rotate:30,fontSize:17.5,color:'#222',fontFamily:FONT,margin:8}:{show:false},
      splitLine:{show:true,lineStyle:{color:'#7a7a7a',type:[1,2],width:1}}})-1;
    xAxis.push({gridIndex:gg,type:'value',position:'bottom',min:rng[0],max:rng[1],axisLine:{show:false},
      axisTick:{show:true,inside:true,length:3,customValues:days,lineStyle:{color:'#444'}},axisLabel:{show:false},splitLine:{show:false}});
    xAxis.push({gridIndex:gg,type:'value',position:'top',min:rng[0],max:rng[1],axisLine:{show:false},
      axisTick:{show:true,inside:true,length:6,customValues:wTicks,lineStyle:{color:'#444'}},axisLabel:{show:false},splitLine:{show:false}});
    xAxis.push({gridIndex:gg,type:'value',position:'top',min:rng[0],max:rng[1],axisLine:{show:false},
      axisTick:{show:true,inside:true,length:3,customValues:days,lineStyle:{color:'#444'}},axisLabel:{show:false},splitLine:{show:false}});
    const yl=yAxis.push({gridIndex:gg,type:'value',position:'left',min:yMin,max:yMax,axisLine:{show:false},
      axisTick:{show:true,inside:true,length:6,customValues:yTicks,lineStyle:{color:'#444'}},
      axisLabel:{show:true,customValues:yTicks,formatter:yFmt,fontSize:18,color:'#222',fontFamily:FONT,margin:7},
      splitLine:{show:true,lineStyle:{color:'#7a7a7a',type:[1,2],width:1}},
      name:name,nameLocation:'middle',nameGap:37,nameRotate:90,nameTextStyle:{fontSize:18,fontFamily:FONT,color:'#222'}})-1;
    yAxis.push({gridIndex:gg,type:'value',position:'right',min:yMin,max:yMax,axisLine:{show:false},
      axisTick:{show:true,inside:true,length:6,customValues:yTicks,lineStyle:{color:'#444'}},axisLabel:{show:false},splitLine:{show:false}});
    const dummy={type:'line',xAxisIndex:xm,yAxisIndex:yl,data:[[rng[0],null]],symbol:'none',silent:true,animation:false,z:1,lineStyle:{opacity:0},
      markArea:{silent:true,animation:false,data:bands.map(b=>[{xAxis:b[0],itemStyle:{color:COL[b[2]],opacity:1}},{xAxis:b[1]}])}};
    if(zero) dummy.markLine={silent:true,symbol:'none',animation:false,label:{show:false},lineStyle:{color:'#3a3a3a',width:1.6,type:'solid'},data:[{yAxis:0}]};
    series.push(dummy);
    series.push(lineS(nearD,xm,yl,COL.blue,1.8,[6,3],3));
    series.push(lineS(farD,xm,yl,COL.purple,1.8,[6,3],3));
    series.push(lineS(near,xm,yl,COL.blue,1.8,'solid',4));
    series.push(lineS(far,xm,yl,COL.purple,1.8,'solid',5));
    if(legBox){
      const [bx,by,bw,bh]=legBox;
      graphic.push({type:'rect',z:99,silent:true,shape:{x:bx,y:by,width:bw,height:bh},style:{fill:'#ffffff',stroke:'#333',lineWidth:1}});
      const y1=by+13, y2=by+bh-13.5;
      graphic.push({type:'line',z:100,silent:true,shape:{x1:bx+8,y1:y1,x2:bx+32,y2:y1},style:{stroke:COL.blue,lineWidth:2}});
      graphic.push({type:'line',z:100,silent:true,shape:{x1:bx+8,y1:y2,x2:bx+32,y2:y2},style:{stroke:COL.purple,lineWidth:2}});
      const rich={a:{fontSize:15.5,fontFamily:FONT,fill:'#222'},b:{fontSize:15.5,fontFamily:FONT,fill:'#888'}};
      graphic.push({type:'text',x:bx+47,y:y1,z:100,silent:true,style:{text:'{a|< 15 km  }{b|\u25B3}',rich:rich,verticalAlign:'middle'}});
      graphic.push({type:'text',x:bx+47,y:y2,z:100,silent:true,style:{text:'{a|> 60 km  }{b|\u25B3}',rich:rich,verticalAlign:'middle'}});
    }
  }
  strip(G.dTop,G.dH,-2.5,2.5,divTicks,minusFmt,'Diverg. (day\u207B\u00B9 )',false,divFar,divNear,divFarD,divNearD,true,null);
  strip(G.sTop,G.sH,0,2,shearTicks,v=>v.toFixed(1),'Shear (day\u207B\u00B9 )',true,shFar,shNear,shFarD,shNearD,false,G.shLeg);
}

buildPanel('A','a) N-ICE2015: winter',rangeA,weekTicksA,weekLabelsA,arrowStartA,windA_u,windA_v,iceA_u,iceA_v,
  distA,tempA,iceConcA,distTicksA,tempTicksA,divA_far,divA_near,divA_farDash,divA_nearDash,shearA_far,shearA_near,shearA_farDash,shearA_nearDash,bandsA);
buildPanel('B','b) N-ICE2015: spring',rangeB,weekTicksB,weekLabelsB,arrowStartB,windB_u,windB_v,iceB_u,iceB_v,
  distB,tempB,iceConcB,distTicksB,tempTicksB,divB_far,divB_near,divB_farDash,divB_nearDash,shearB_far,shearB_near,shearB_farDash,shearB_nearDash,bandsB);

const chart = echarts.init(document.getElementById('c'), null, {renderer:'svg', width:1356, height:1363});
chart.setOption({animation:false, backgroundColor:'#ffffff', textStyle:{fontFamily:FONT},
  grid:grids, xAxis:xAxis, yAxis:yAxis, series:series, graphic:{elements:graphic}});
</script></body></html>
